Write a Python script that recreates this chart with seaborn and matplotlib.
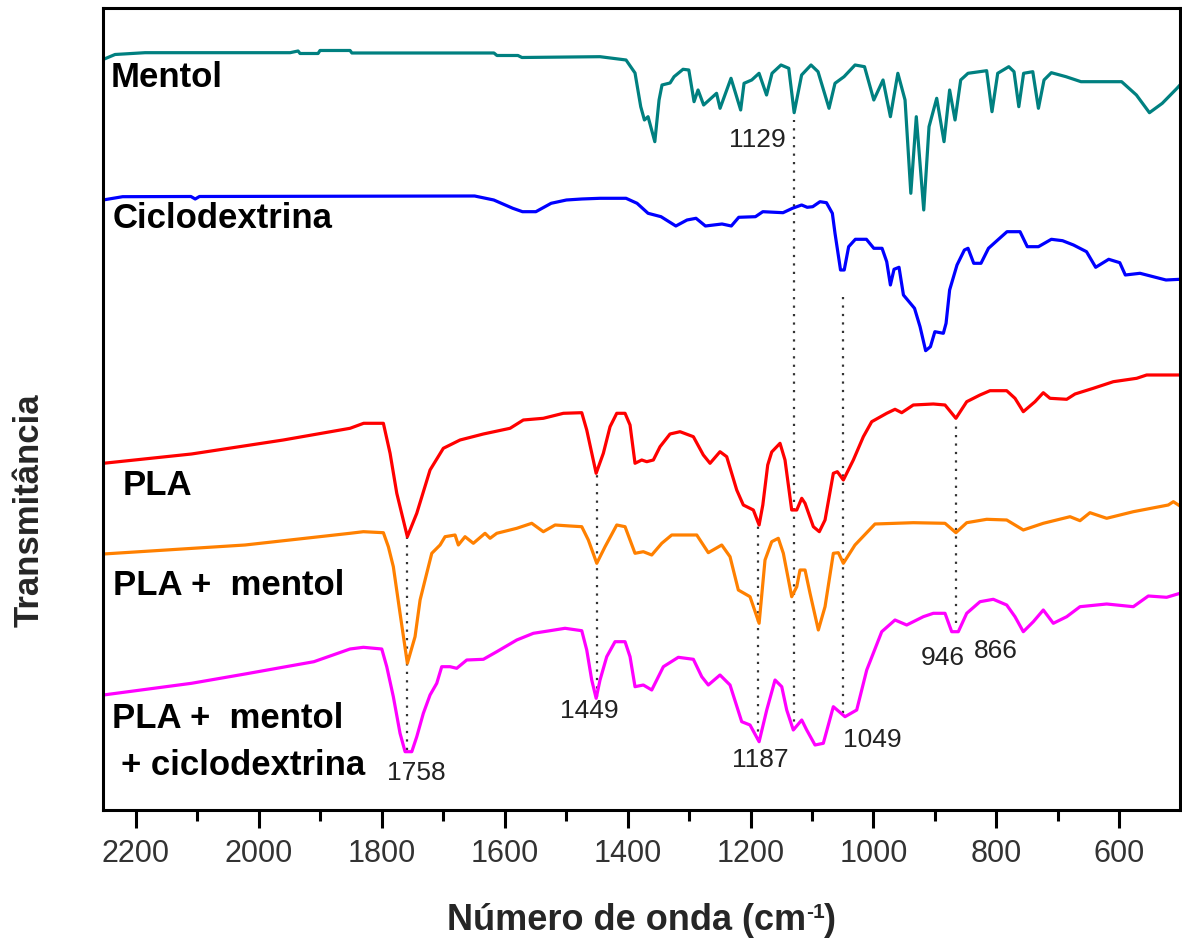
import matplotlib
matplotlib.use("Agg")
import matplotlib.pyplot as plt
from matplotlib.ticker import MultipleLocator
import seaborn as sns
import pandas as pd

# FTIR spectra: (wavenumber in cm-1, transmittance in arbitrary offset units)
MENTOL = [(2252.8, 750.5), (2233.3, 755.5), (2184.5, 757.3), (1948.7, 757.3), (1935.7, 759.0),
          (1932.5, 756.5), (1903.2, 756.5), (1900.0, 759.5), (1851.2, 759.5), (1848.2, 757.0),
          (1617.2, 757.0), (1612.3, 754.5), (1578.2, 754.5), (1571.7, 752.5), (1444.7, 753.3),
          (1402.4, 750.0), (1387.8, 737.0), (1378.5, 703.3), (1372.5, 690.0), (1366.6, 693.3),
          (1355.6, 668.3), (1348.7, 710.0), (1343.9, 725.0), (1330.8, 727.0), (1324.3, 733.3),
          (1309.7, 740.7), (1300.3, 740.0), (1291.8, 708.3), (1285.3, 720.0), (1276.2, 705.0),
          (1255.2, 716.7), (1249.5, 701.7), (1231.7, 731.7), (1216.0, 700.0), (1210.5, 726.7),
          (1198.0, 730.0), (1186.1, 736.7), (1173.9, 715.0), (1165.0, 736.7), (1150.4, 745.0),
          (1137.8, 741.7), (1129.0, 697.3), (1116.9, 735.0), (1101.6, 745.0), (1090.2, 738.3),
          (1072.3, 701.7), (1062.6, 726.7), (1047.9, 733.3), (1030.0, 745.0), (1014.6, 743.3),
          (999.5, 710.0), (984.5, 730.0), (972.5, 693.3), (960.4, 736.7), (948.7, 710.0),
          (939.3, 616.7), (930.4, 693.3), (918.3, 600.0), (909.7, 683.3), (897.2, 711.7),
          (885.3, 668.3), (876.2, 720.0), (867.4, 690.0), (858.2, 730.0), (846.3, 736.7),
          (816.0, 739.3), (807.3, 698.3), (798.0, 736.7), (780.0, 743.3), (771.5, 738.3),
          (763.7, 703.3), (755.9, 736.7), (741.0, 738.3), (731.8, 701.7), (722.7, 730.0),
          (710.8, 737.3), (687.0, 733.3), (662.6, 728.3), (644.7, 728.3), (596.5, 728.3),
          (572.5, 715.0), (551.3, 697.3), (530.4, 706.7), (506.5, 721.7), (501.6, 725.0)]

CICLODEXTRINA = [(2252.8, 610.0), (2221.0, 613.3), (2110.0, 613.5), (2103.0, 611.0), (2096.0, 613.5),
                 (1648.6, 614.0), (1617.5, 610.0), (1586.5, 601.7), (1570.8, 598.3), (1549.0, 598.3),
                 (1524.2, 606.7), (1499.3, 610.0), (1474.4, 611.0), (1444.7, 611.7), (1402.4, 611.7),
                 (1384.5, 606.7), (1366.6, 596.7), (1345.5, 593.3), (1321.4, 584.0), (1303.2, 590.0),
                 (1288.6, 591.7), (1273.3, 584.0), (1246.3, 586.0), (1231.2, 584.0), (1219.1, 592.7),
                 (1192.0, 593.3), (1180.0, 598.3), (1147.1, 597.3), (1131.8, 601.7), (1116.9, 605.0),
                 (1107.8, 602.7), (1098.8, 603.3), (1087.0, 608.3), (1076.5, 607.3), (1066.9, 596.7),
                 (1062.6, 576.7), (1053.6, 540.0), (1047.6, 540.0), (1040.4, 563.3), (1029.5, 570.7),
                 (1011.5, 570.7), (999.5, 561.7), (986.1, 561.7), (978.5, 548.3), (972.5, 525.0),
                 (966.6, 540.7), (958.5, 542.7), (951.3, 515.0), (933.3, 501.7), (924.3, 483.3),
                 (915.2, 459.3), (907.4, 463.3), (900.2, 478.3), (886.4, 476.7), (882.0, 486.7),
                 (876.2, 520.0), (864.2, 545.0), (852.2, 560.0), (846.3, 561.7), (837.0, 546.7),
                 (825.2, 546.7), (813.0, 561.7), (798.0, 570.0), (782.9, 578.3), (761.7, 578.3),
                 (749.9, 563.3), (731.8, 563.3), (710.8, 570.7), (692.6, 569.3), (674.8, 565.0),
                 (653.6, 558.3), (638.7, 542.7), (617.5, 550.7), (599.5, 547.3), (590.5, 535.0),
                 (566.6, 536.7), (524.4, 530.0), (501.6, 530.7)]

PLA = [(2252.3, 346.7), (2109.0, 356.0), (1959.8, 370.0), (1851.2, 381.7), (1829.1, 386.7),
       (1797.0, 386.7), (1786.1, 356.7), (1775.2, 316.7), (1758.0, 273.3), (1742.7, 296.7),
       (1721.1, 340.0), (1699.5, 361.7), (1672.3, 370.0), (1634.4, 376.0), (1591.0, 381.7),
       (1569.4, 390.0), (1536.9, 391.7), (1504.3, 396.7), (1474.4, 397.3), (1466.3, 380.0),
       (1451.0, 336.7), (1439.3, 356.7), (1428.4, 383.3), (1417.5, 396.7), (1404.0, 396.7),
       (1395.9, 385.0), (1387.8, 346.7), (1376.9, 350.0), (1368.7, 348.3), (1358.0, 350.0),
       (1347.1, 363.3), (1330.9, 376.0), (1314.6, 378.3), (1292.9, 373.3), (1276.7, 355.0),
       (1265.8, 346.7), (1249.6, 358.3), (1238.7, 353.3), (1222.4, 320.0), (1211.7, 305.0),
       (1195.4, 300.0), (1186.0, 285.0), (1180.0, 305.0), (1172.0, 345.0), (1165.5, 358.0),
       (1152.0, 366.7), (1143.9, 350.0), (1133.0, 300.0), (1124.8, 300.0), (1116.7, 311.7),
       (1111.3, 306.7), (1097.8, 283.3), (1088.1, 278.3), (1078.8, 290.0), (1065.3, 336.7),
       (1058.8, 338.3), (1049.0, 330.0), (1032.8, 350.0), (1016.5, 373.3), (1002.9, 388.3),
       (978.5, 396.7), (965.0, 400.7), (954.1, 397.3), (935.3, 405.0), (902.7, 406.0),
       (883.7, 405.0), (866.0, 391.7), (848.4, 408.3), (826.8, 415.0), (810.5, 419.3),
       (783.4, 419.3), (769.9, 411.7), (756.4, 398.3), (737.4, 408.3), (723.9, 417.3),
       (713.0, 411.7), (685.8, 410.7), (672.3, 416.0), (642.6, 421.7), (610.0, 428.3),
       (572.0, 431.7), (555.8, 435.0), (501.6, 435.0)]

PLA_MENTOL = [(2252.3, 256.0), (2021.9, 265.0), (1851.2, 276.7), (1829.5, 278.3), (1797.0, 277.3),
              (1788.9, 263.3), (1780.8, 243.3), (1769.9, 196.7), (1758.0, 146.7), (1745.5, 173.3),
              (1737.3, 210.0), (1726.5, 236.7), (1718.3, 256.7), (1704.8, 265.0), (1696.7, 273.3),
              (1680.4, 275.0), (1675.1, 265.0), (1664.2, 273.3), (1650.7, 266.7), (1631.7, 276.7),
              (1623.5, 271.7), (1612.6, 276.7), (1580.1, 281.7), (1555.7, 286.7), (1536.9, 278.3),
              (1517.8, 285.0), (1493.5, 284.0), (1474.4, 283.3), (1463.7, 270.0), (1450.0, 246.7),
              (1436.5, 263.3), (1417.5, 285.0), (1404.0, 283.3), (1387.8, 256.7), (1374.3, 258.3),
              (1360.6, 255.0), (1344.3, 266.7), (1328.1, 275.0), (1287.4, 275.0), (1268.6, 257.3),
              (1246.8, 265.0), (1233.3, 253.3), (1219.8, 220.0), (1200.8, 213.3), (1186.0, 186.7),
              (1176.4, 250.0), (1165.5, 268.3), (1154.8, 271.7), (1146.6, 256.7), (1133.0, 213.3),
              (1124.8, 223.3), (1119.5, 240.0), (1111.3, 240.0), (1103.2, 216.7), (1089.7, 180.0),
              (1078.8, 203.3), (1065.3, 256.7), (1057.2, 257.3), (1049.0, 246.7), (1030.1, 265.0),
              (997.6, 286.0), (935.3, 287.3), (883.7, 286.7), (866.0, 277.3), (848.4, 287.3),
              (815.9, 290.7), (783.4, 290.0), (756.4, 280.0), (723.9, 286.7), (680.4, 293.3),
              (664.2, 289.3), (648.0, 297.3), (620.8, 291.7), (577.5, 298.3), (520.6, 305.0),
              (512.4, 308.3), (501.6, 304.0)]

PLA_MENTOL_CD = [(2252.3, 115.0), (2109.0, 126.7), (2021.9, 136.0), (1910.0, 148.3), (1851.2, 161.0),
                 (1829.5, 162.7), (1799.6, 161.0), (1791.5, 143.3), (1780.8, 113.3), (1769.9, 76.7),
                 (1761.7, 58.3), (1750.8, 58.3), (1742.7, 73.3), (1732.0, 96.7), (1721.1, 115.0),
                 (1710.2, 126.7), (1702.1, 143.3), (1688.6, 143.3), (1677.7, 141.7), (1661.4, 150.0),
                 (1634.4, 150.7), (1612.6, 158.3), (1580.1, 170.0), (1553.1, 176.7), (1526.0, 179.3),
                 (1501.6, 181.7), (1474.4, 179.3), (1466.3, 160.0), (1458.2, 130.0), (1451.0, 111.7),
                 (1444.7, 130.0), (1433.8, 153.3), (1420.3, 168.3), (1404.0, 168.3), (1395.9, 153.3),
                 (1387.8, 123.3), (1374.3, 125.0), (1360.6, 120.0), (1341.7, 143.3), (1317.4, 152.7),
                 (1292.9, 150.7), (1279.3, 133.3), (1268.6, 125.0), (1249.6, 135.0), (1233.3, 125.0),
                 (1214.3, 88.3), (1200.8, 85.0), (1186.0, 68.3), (1173.6, 100.0), (1160.1, 130.0),
                 (1149.2, 123.3), (1141.1, 100.0), (1130.4, 80.0), (1116.7, 90.0), (1108.6, 80.0),
                 (1095.1, 65.0), (1081.6, 66.7), (1065.3, 103.3), (1046.3, 93.3), (1027.3, 100.0),
                 (1011.0, 140.0), (986.6, 178.3), (965.0, 190.0), (946.0, 185.0), (919.0, 193.3),
                 (902.7, 196.7), (883.7, 196.7), (872.8, 178.3), (862.1, 178.3), (848.4, 196.7),
                 (826.8, 208.3), (805.2, 210.7), (783.4, 205.0), (769.9, 193.3), (756.4, 178.3),
                 (740.1, 188.3), (723.9, 200.0), (707.6, 186.7), (685.8, 193.3), (664.2, 203.3),
                 (620.8, 206.0), (577.5, 203.3), (553.1, 214.0), (523.3, 212.7), (501.6, 216.7)]

SAMPLES = ["Mentol", "Ciclodextrina", "PLA", "PLA + mentol", "PLA + mentol + ciclodextrina"]
SPECTRA = [MENTOL, CICLODEXTRINA, PLA, PLA_MENTOL, PLA_MENTOL_CD]
COLORS = ["#008080", "#0000ff", "#ff0000", "#ff8000", "#ff00ff"]

# marked bands: wavenumber, upper and lower end of the guide line
BANDS = [1758, 1449, 1187, 1129, 1049, 866]
BAND_TOP = [273, 335, 285, 690, 519, 388]
BAND_BOTTOM = [60, 113, 70, 80, 97, 187]

sns.set_theme(style="ticks")
plt.rcParams["font.family"] = ["Liberation Sans", "DejaVu Sans"]

rows = []
for name, spec in zip(SAMPLES, SPECTRA):
    for wn, t in spec:
        rows.append({"wn": wn, "t": t, "amostra": name})
df = pd.DataFrame(rows)

W, H = 1182, 940
fig = plt.figure(figsize=(W / 100, H / 100), dpi=100)
ax = fig.add_axes([0.0871, 0.1383, 0.9112, 0.8532])

sns.lineplot(data=df, x="wn", y="t", hue="amostra", hue_order=SAMPLES,
             palette=COLORS, estimator=None, linewidth=2.3, legend=False, ax=ax)

for wn, top, bot in zip(BANDS, BAND_TOP, BAND_BOTTOM):
    ax.plot([wn, wn], [bot, top], color="#333333", lw=1.6,
            linestyle=(0, (1, 2.8)), zorder=1)

ax.set_xlim(2253, 501.6)
ax.set_ylim(0, 802)
ax.set_yticks([])
ax.xaxis.set_major_locator(MultipleLocator(200))
ax.xaxis.set_minor_locator(MultipleLocator(100))
ax.tick_params(axis="x", which="major", direction="out", length=13, width=2.2,
               pad=8, labelsize=22, labelcolor="#333333", color="black")
ax.tick_params(axis="x", which="minor", direction="out", length=8, width=2.2, color="black")
for side in ["left", "right", "top", "bottom"]:
    ax.spines[side].set_visible(True)
    ax.spines[side].set_linewidth(2.2)
    ax.spines[side].set_color("black")
ax.set_xlabel("")
ax.set_ylabel("")

# sample names
name_style = dict(fontsize=25, fontweight="bold", color="black", ha="left", va="baseline")
ax.text(2241, 723, "Mentol", **name_style)
ax.text(2238, 582, "Ciclodextrina", **name_style)
ax.text(2221, 315, "PLA", **name_style)
ax.text(2236, 215, "PLA +  mentol", **name_style)
ax.text(2238, 82, "PLA +  mentol", **name_style)
ax.text(2224, 35, "+ ciclodextrina", **name_style)

# band labels
band_style = dict(fontsize=19, color="#222222", ha="center", va="baseline")
ax.text(1189, 663, "1129", **band_style)
ax.text(1744, 30, "1758", **band_style)
ax.text(1462, 92, "1449", **band_style)
ax.text(1184, 43, "1187", **band_style)
ax.text(1002, 63, "1049", **band_style)
ax.text(888, 145, "946", **band_style)
ax.text(801, 152, "866", **band_style)

# x-axis title with a raised "-1" (plain hyphen), assembled piece by piece
pieces = [("Número de onda (cm", 26, 0), ("-1", 15, 12), (")", 26, 0)]
renderer = fig.canvas.get_renderer()
objs = []
for s, size, rise in pieces:
    t = fig.text(0, 0, s, fontsize=size, fontweight="bold", ha="left", va="baseline")
    objs.append((t, rise, t.get_window_extent(renderer).width))
total = sum(w for _, _, w in objs)
x = 641.5 - total / 2
base = H - 930
for t, rise, w in objs:
    t.set_position((x / W, (base + rise) / H))
    x += w

fig.text(29.5 / W, 1 - 510 / H, "Transmitância", fontsize=25, fontweight="bold",
         rotation=90, ha="center", va="center")

fig.savefig("out.png", dpi=100)
